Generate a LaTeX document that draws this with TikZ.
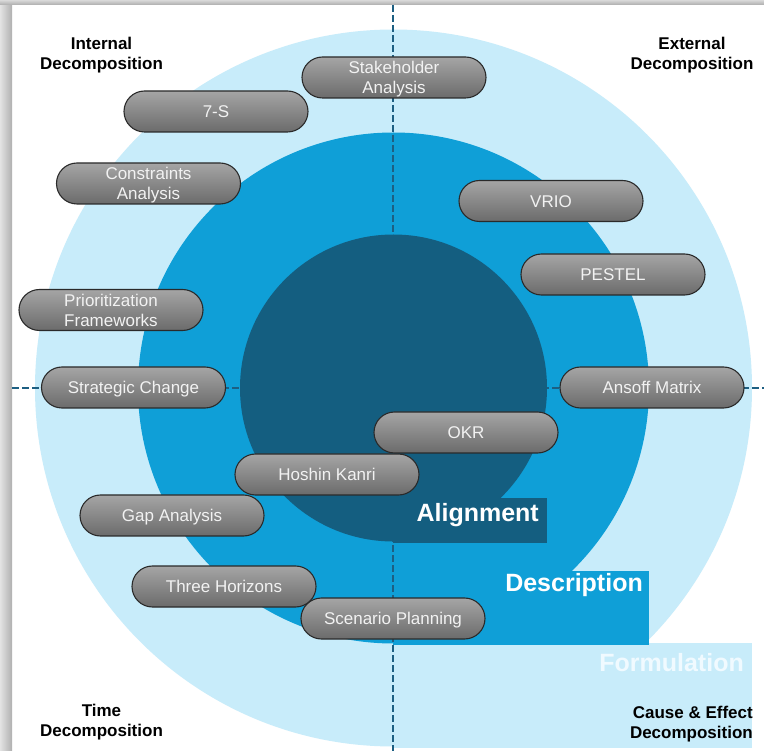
\documentclass[tikz,border=0pt]{standalone}
\usepackage{fontspec}
\setmainfont{Liberation Sans}
\usetikzlibrary{shapes.misc}
\definecolor{ringlight}{HTML}{C8ECFA}
\definecolor{ringmid}{HTML}{0F9FD7}
\definecolor{ringdark}{HTML}{145E80}
\definecolor{axisblue}{HTML}{1D5F82}
\definecolor{pilltop}{HTML}{A5A5A5}
\definecolor{pillbot}{HTML}{6B6B6B}
\definecolor{pillline}{HTML}{2A2A2A}
\definecolor{pilltext}{HTML}{F2F2F2}
\definecolor{formtext}{HTML}{F0FAFF}
\newcommand\pone[1]{\rule[-4.4pt]{0pt}{21pt}#1}
\newcommand\ptwo[2]{\rule{0pt}{16.6pt}#1\\#2\rule[-3.6pt]{0pt}{3.6pt}}
\tikzset{
  pill/.style={rounded rectangle, minimum width=184pt, minimum height=41pt,
    inner sep=0pt, top color=pilltop, bottom color=pillbot, draw=pillline,
    line width=1.1pt, text=pilltext, align=center,
    font=\fontsize{17}{20}\selectfont},
  corner/.style={inner sep=0pt, font=\bfseries\fontsize{17}{20}\selectfont, text=black},
  ringlabel/.style={inner sep=0pt, font=\bfseries\fontsize{25}{30}\selectfont},
  axis/.style={draw=axisblue, line width=1.6pt, dash pattern=on 7pt off 3pt}
}
\begin{document}
\begin{tikzpicture}[x=1pt,y=-1pt]
\useasboundingbox (0,0) rectangle (764,751);
\fill[white] (0,0) rectangle (764,751);
% frame
\shade[left color=gray!22, right color=gray!62] (0,0) rectangle (12,751);
\shade[top color=gray!30, bottom color=gray!65] (0,0) rectangle (764,5);
% rings and label bands
\fill[ringlight] (393.5,388) circle [radius=358.5pt];
\fill[ringlight] (393,643) rectangle (752,748);
\fill[ringmid] (393.5,388) circle [radius=255.5pt];
\fill[ringmid] (393,571) rectangle (649,645);
% axes
\coordinate (vtop) at (393,5);
\coordinate (vbot) at (393,751);
\coordinate (hleft) at (12,388);
\coordinate (hright) at (764,388);
\draw[axis] (vtop) -- (vbot);
\draw[axis] (hleft) -- (hright);
\fill[ringdark] (393.5,388) circle [radius=153.5pt];
\fill[ringdark] (393,498) rectangle (547,543);
% ring labels
\node[ringlabel, text=white, anchor=base east] (align) at (539,521.5) {Alignment};
\node[ringlabel, text=white, anchor=base east] (descr) at (643,591) {Description};
\node[ringlabel, text=formtext, anchor=base east] (formu) at (744,671) {Formulation};
% corner labels
\node[corner, align=center] (internal) at (101.5,55.6) {Internal\\Decomposition};
\node[corner, align=center] (external) at (692,55.6) {External\\Decomposition};
\node[corner, align=center] (time) at (101.5,721.7) {Time\\Decomposition};
\node[corner, align=right, anchor=east] (cause) at (753,724.3) {Cause \& Effect\\Decomposition};
% pills
\node[pill] (stake) at (394,77.5) {\ptwo{Stakeholder}{Analysis}};
\node[pill] (seven) at (216,111.5) {\pone{7-S}};
\node[pill] (constr) at (148.5,183.5) {\ptwo{Constraints}{Analysis}};
\node[pill] (vrio) at (551,201) {\pone{VRIO}};
\node[pill] (pestel) at (613,274.5) {\pone{PESTEL}};
\node[pill] (prior) at (111,310) {\ptwo{Prioritization}{Frameworks}};
\node[pill] (strat) at (133.5,387.5) {\pone{Strategic Change}};
\node[pill] (ansoff) at (652,387.5) {\pone{Ansoff Matrix}};
\node[pill] (okr) at (466,432.5) {\pone{OKR}};
\node[pill] (hoshin) at (327,474.5) {\pone{Hoshin Kanri}};
\node[pill] (gap) at (172,515.5) {\pone{Gap Analysis}};
\node[pill] (scen) at (393,618.5) {\pone{Scenario Planning}};
\node[pill] (three) at (224,586.5) {\pone{Three Horizons}};
\end{tikzpicture}
\end{document}
